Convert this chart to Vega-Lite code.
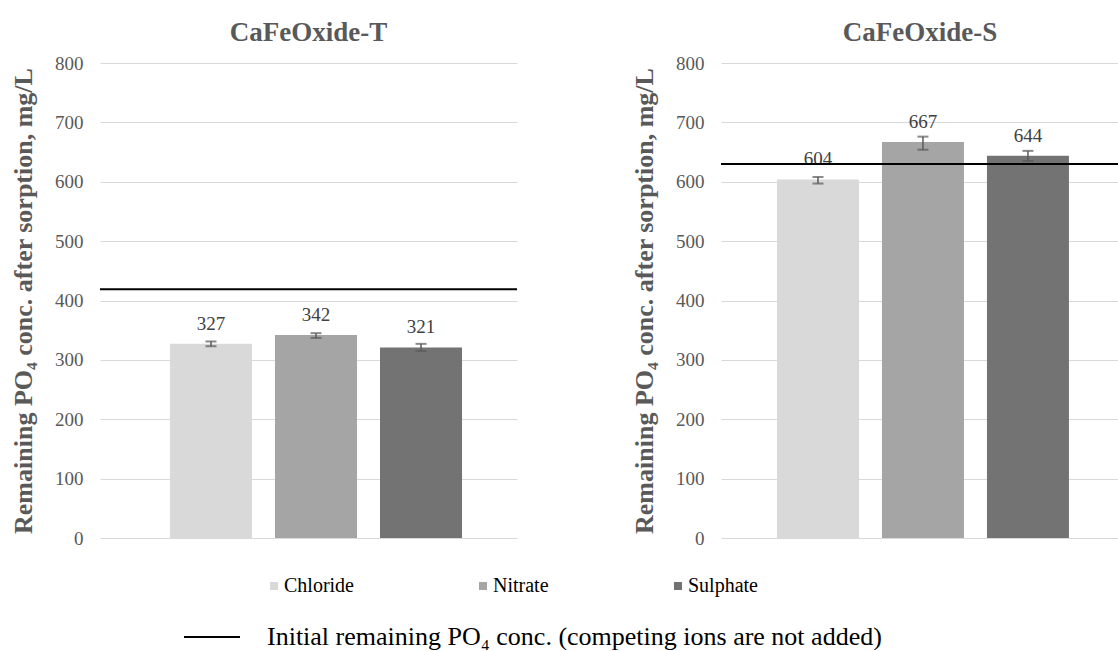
{
  "$schema": "https://vega.github.io/schema/vega-lite/v6.json",
  "background": "white",
  "padding": {"left": 10, "top": 19, "right": 0, "bottom": 0},
  "datasets": {
    "bars": [
      {"panel": "T", "ion": "Chloride", "value": 327, "lo": 323, "hi": 331},
      {"panel": "T", "ion": "Nitrate", "value": 342, "lo": 337, "hi": 345},
      {"panel": "T", "ion": "Sulphate", "value": 321, "lo": 315, "hi": 327},
      {"panel": "S", "ion": "Chloride", "value": 604, "lo": 597, "hi": 608},
      {"panel": "S", "ion": "Nitrate", "value": 667, "lo": 654, "hi": 676},
      {"panel": "S", "ion": "Sulphate", "value": 644, "lo": 635, "hi": 652}
    ],
    "initial": [
      {"panel": "T", "value": 419, "label": "Initial remaining PO₄ conc. (competing ions are not added)"},
      {"panel": "S", "value": 630, "label": "Initial remaining PO₄ conc. (competing ions are not added)"}
    ]
  },
  "hconcat": [
    {
      "title": "CaFeOxide-T",
      "width": 417,
      "height": 475,
      "layer": [
        {
          "data": {"name": "bars"},
          "transform": [{"filter": "datum.panel === 'T'"}],
          "mark": {"type": "bar"},
          "encoding": {
            "x": {"field": "ion", "type": "nominal", "axis": null,
                  "scale": {"paddingInner": 0.219, "paddingOuter": 0.595, "align": 0.56}},
            "y": {"field": "value", "type": "quantitative",
                  "scale": {"domain": [0, 800]},
                  "axis": {"title": "Remaining PO₄ conc. after sorption, mg/L", "values": [0,100,200,300,400,500,600,700,800]}},
            "fill": {"field": "ion", "type": "nominal",
                     "scale": {"domain": ["Chloride", "Nitrate", "Sulphate"], "range": ["#d9d9d9", "#a5a5a5", "#737373"]},
                     "legend": {"orient": "none", "legendX": 164, "legendY": 513, "direction": "horizontal", "title": null,
                                "columnPadding": 119, "symbolType": "square", "symbolSize": 64, "labelFontSize": 20,
                                "labelOffset": 0, "labelColor": "#000000", "padding": 0, "symbolStrokeWidth": 0}}
          }
        },
        {
          "data": {"name": "bars"},
          "transform": [{"filter": "datum.panel === 'T'"}],
          "mark": {"type": "errorbar", "color": "#595959", "ticks": {"size": 11, "thickness": 2}, "rule": {"strokeWidth": 1.5}},
          "encoding": {
            "x": {"field": "ion", "type": "nominal", "axis": null},
            "y": {"field": "lo", "type": "quantitative",
                  "axis": {"title": "Remaining PO₄ conc. after sorption, mg/L", "values": [0,100,200,300,400,500,600,700,800]}},
            "y2": {"field": "hi"}
          }
        },
        {
          "data": {"name": "bars"},
          "transform": [{"filter": "datum.panel === 'T'"}],
          "mark": {"type": "text", "baseline": "alphabetic", "dy": -14, "fontSize": 19, "color": "#404040"},
          "encoding": {
            "x": {"field": "ion", "type": "nominal", "axis": null},
            "y": {"field": "value", "type": "quantitative",
                  "axis": {"title": "Remaining PO₄ conc. after sorption, mg/L", "values": [0,100,200,300,400,500,600,700,800]}},
            "text": {"field": "value", "type": "quantitative"}
          }
        },
        {
          "data": {"name": "initial"},
          "transform": [{"filter": "datum.panel === 'T'"}],
          "mark": {"type": "rule", "strokeWidth": 2},
          "encoding": {
            "y": {"field": "value", "type": "quantitative",
                  "axis": {"title": "Remaining PO₄ conc. after sorption, mg/L", "values": [0,100,200,300,400,500,600,700,800]}},
            "stroke": {"field": "label", "type": "nominal", "scale": {"range": ["#000000"]},
                       "legend": {"orient": "none", "legendX": 83, "legendY": 545, "title": null, "symbolType": "stroke",
                                  "symbolSize": 3136, "symbolStrokeWidth": 2, "labelFontSize": 26, "labelOffset": 26,
                                  "labelColor": "#000000", "padding": 0, "labelLimit": 1000}}
          }
        }
      ]
    },
    {
      "title": "CaFeOxide-S",
      "width": 398,
      "height": 475,
      "layer": [
        {
          "data": {"name": "bars"},
          "transform": [{"filter": "datum.panel === 'S'"}],
          "mark": {"type": "bar"},
          "encoding": {
            "x": {"field": "ion", "type": "nominal", "axis": null,
                  "scale": {"paddingInner": 0.219, "paddingOuter": 0.505, "align": 0.528}},
            "y": {"field": "value", "type": "quantitative",
                  "scale": {"domain": [0, 800]},
                  "axis": {"title": "Remaining PO₄ conc. after sorption, mg/L", "values": [0,100,200,300,400,500,600,700,800]}},
            "fill": {"field": "ion", "type": "nominal"}
          }
        },
        {
          "data": {"name": "bars"},
          "transform": [{"filter": "datum.panel === 'S'"}],
          "mark": {"type": "errorbar", "color": "#595959", "ticks": {"size": 11, "thickness": 2}, "rule": {"strokeWidth": 1.5}},
          "encoding": {
            "x": {"field": "ion", "type": "nominal", "axis": null},
            "y": {"field": "lo", "type": "quantitative",
                  "axis": {"title": "Remaining PO₄ conc. after sorption, mg/L", "values": [0,100,200,300,400,500,600,700,800]}},
            "y2": {"field": "hi"}
          }
        },
        {
          "data": {"name": "bars"},
          "transform": [{"filter": "datum.panel === 'S'"}],
          "mark": {"type": "text", "baseline": "alphabetic", "dy": -14, "fontSize": 19, "color": "#404040"},
          "encoding": {
            "x": {"field": "ion", "type": "nominal", "axis": null},
            "y": {"field": "value", "type": "quantitative",
                  "axis": {"title": "Remaining PO₄ conc. after sorption, mg/L", "values": [0,100,200,300,400,500,600,700,800]}},
            "text": {"field": "value", "type": "quantitative"}
          }
        },
        {
          "data": {"name": "initial"},
          "transform": [{"filter": "datum.panel === 'S'"}],
          "mark": {"type": "rule", "strokeWidth": 2},
          "encoding": {
            "y": {"field": "value", "type": "quantitative",
                  "axis": {"title": "Remaining PO₄ conc. after sorption, mg/L", "values": [0,100,200,300,400,500,600,700,800]}},
            "stroke": {"field": "label", "type": "nominal"}
          }
        }
      ]
    }
  ],
  "spacing": 113,
  "config": {
    "font": "Liberation Serif",
    "view": {"stroke": null},
    "title": {"fontSize": 27, "fontWeight": "bold", "color": "#595959", "offset": 7, "anchor": "middle"},
    "axis": {
      "domain": false, "ticks": false, "grid": true, "gridColor": "#d9d9d9", "gridWidth": 1,
      "labelFont": "Liberation Serif", "labelFontSize": 19, "labelColor": "#595959", "labelPadding": 17,
      "titleFont": "Liberation Serif", "titleFontSize": 26, "titleFontWeight": "bold", "titleColor": "#595959", "titlePadding": 18
    },
    "legend": {"labelFont": "Liberation Serif"}
  }
}
